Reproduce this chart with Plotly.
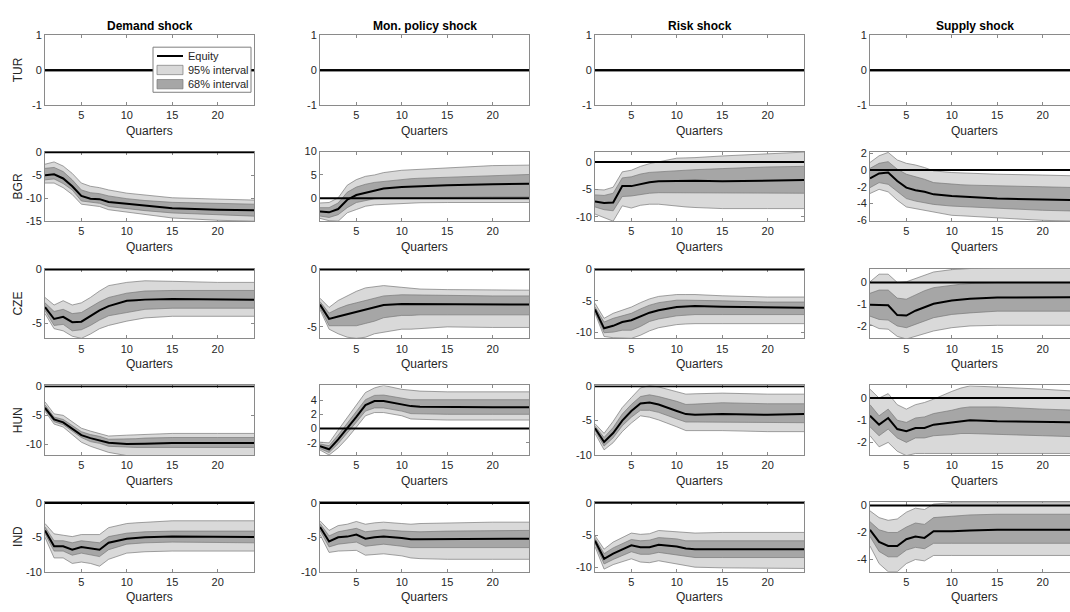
import plotly.graph_objects as go

# ---------------- data ----------------
quarters = [1, 2, 3, 4, 5, 6, 7, 8, 10, 11, 12, 15, 20, 24]
shocks = ["Demand shock", "Mon. policy shock", "Risk shock", "Supply shock"]
countries = ["TUR", "BGR", "CZE", "HUN", "IND"]
legend_labels = ["Equity", "95% interval", "68% interval"]

zeros = [0.0] * len(quarters)
tur_demand = dict(med=zeros, hi68=zeros, lo68=zeros, hi95=zeros, lo95=zeros)
tur_mon = dict(med=zeros, hi68=zeros, lo68=zeros, hi95=zeros, lo95=zeros)
tur_risk = dict(med=zeros, hi68=zeros, lo68=zeros, hi95=zeros, lo95=zeros)
tur_supply = dict(med=zeros, hi68=zeros, lo68=zeros, hi95=zeros, lo95=zeros)

bgr_demand = dict(
    med=[-5.0, -4.8, -5.7, -7.4, -9.5, -10.1, -10.2, -10.8, -11.2, -11.4, -11.6, -12.2, -12.5, -12.6],
    hi68=[-3.5, -3.3, -4.2, -6.0, -8.2, -8.8, -9.0, -9.5, -10.1, -10.3, -10.5, -10.9, -11.2, -11.3],
    lo68=[-6.0, -5.8, -6.8, -8.2, -10.6, -10.9, -11.1, -11.8, -12.3, -12.5, -12.7, -13.2, -13.6, -13.9],
    hi95=[-2.6, -2.1, -3.0, -4.6, -6.7, -7.4, -7.7, -8.2, -8.9, -9.1, -9.3, -9.9, -10.2, -10.4],
    lo95=[-6.7, -6.7, -7.7, -9.2, -11.3, -11.6, -11.8, -12.5, -13.0, -13.3, -13.6, -14.3, -14.8, -15.0])
bgr_mon = dict(
    med=[-2.8, -3.0, -2.3, -0.3, 0.7, 1.2, 1.7, 2.1, 2.4, 2.5, 2.6, 2.8, 3.0, 3.1],
    hi68=[-2.0, -2.0, -1.0, 1.3, 2.4, 3.0, 3.4, 3.6, 4.1, 4.2, 4.3, 4.5, 4.9, 5.1],
    lo68=[-3.8, -4.1, -3.5, -2.0, -0.9, -0.5, -0.1, 0.0, 0.1, 0.15, 0.15, 0.2, 0.3, 0.3],
    hi95=[-1.0, -0.9, 0.1, 2.8, 4.0, 4.7, 5.0, 5.5, 6.0, 6.1, 6.2, 6.6, 7.0, 7.1],
    lo95=[-4.3, -4.8, -4.9, -3.1, -2.4, -1.7, -1.4, -1.3, -1.0, -1.0, -0.95, -0.9, -0.9, -0.9])
bgr_risk = dict(
    med=[-7.2, -7.5, -7.4, -4.4, -4.4, -4.0, -3.7, -3.5, -3.4, -3.4, -3.4, -3.5, -3.4, -3.3],
    hi68=[-6.0, -6.1, -5.7, -2.9, -2.7, -2.2, -1.9, -1.8, -1.5, -1.45, -1.4, -1.2, -0.9, -0.8],
    lo68=[-8.2, -8.7, -8.9, -6.3, -6.2, -5.9, -5.7, -5.6, -5.6, -5.6, -5.65, -5.7, -5.7, -5.7],
    hi95=[-5.0, -5.1, -4.6, -1.8, -1.5, -0.8, -0.3, 0.0, 0.7, 0.75, 0.8, 1.1, 1.5, 1.8],
    lo95=[-9.5, -10.1, -10.8, -8.0, -8.4, -7.9, -7.7, -7.7, -8.1, -8.2, -8.3, -8.5, -8.5, -8.5])
bgr_supply = dict(
    med=[-1.0, -0.4, -0.3, -1.3, -2.1, -2.4, -2.6, -2.9, -3.1, -3.15, -3.2, -3.4, -3.5, -3.6],
    hi68=[0.2, 0.8, 1.0, 0.1, -0.5, -0.8, -1.1, -1.5, -1.7, -1.75, -1.8, -1.9, -2.0, -2.1],
    lo68=[-2.1, -1.5, -1.7, -2.6, -3.4, -3.7, -3.9, -4.1, -4.3, -4.35, -4.4, -4.6, -4.8, -4.9],
    hi95=[0.9, 1.7, 2.1, 1.2, 0.8, 0.6, 0.3, -0.1, -0.3, -0.35, -0.4, -0.5, -0.6, -0.7],
    lo95=[-2.8, -2.3, -2.6, -3.6, -4.4, -4.6, -4.8, -5.0, -5.4, -5.45, -5.5, -5.7, -6.0, -6.1])

cze_demand = dict(
    med=[-3.5, -4.6, -4.4, -4.9, -4.85, -4.3, -3.8, -3.4, -2.9, -2.85, -2.8, -2.75, -2.75, -2.8],
    hi68=[-3.1, -3.9, -3.7, -4.1, -4.0, -3.5, -3.0, -2.6, -2.2, -2.1, -2.0, -1.95, -1.95, -1.95],
    lo68=[-3.8, -5.2, -5.1, -5.7, -5.6, -5.2, -4.7, -4.3, -4.0, -3.85, -3.7, -3.6, -3.6, -3.6],
    hi95=[-2.6, -3.3, -2.9, -3.3, -3.1, -2.6, -2.0, -1.5, -1.2, -1.1, -1.05, -1.1, -1.2, -1.2],
    lo95=[-4.1, -5.5, -5.7, -6.2, -6.4, -6.0, -5.5, -5.2, -4.8, -4.65, -4.5, -4.35, -4.35, -4.35])
cze_mon = dict(
    med=[-3.05, -4.3, -4.1, -3.9, -3.7, -3.5, -3.3, -3.1, -3.0, -3.0, -3.0, -3.0, -3.05, -3.05],
    hi68=[-2.8, -3.8, -3.4, -3.1, -2.9, -2.7, -2.5, -2.3, -2.2, -2.2, -2.2, -2.25, -2.3, -2.3],
    lo68=[-3.3, -4.9, -4.9, -4.9, -4.9, -4.7, -4.5, -4.2, -4.0, -4.0, -3.95, -3.95, -3.95, -3.95],
    hi95=[-2.5, -3.3, -2.7, -2.3, -1.9, -1.6, -1.5, -1.4, -1.55, -1.65, -1.7, -1.75, -1.8, -1.8],
    lo95=[-3.5, -5.2, -5.6, -5.9, -6.0, -5.9, -5.6, -5.45, -5.2, -5.2, -5.15, -5.0, -5.05, -5.05])
cze_risk = dict(
    med=[-6.4, -9.4, -9.0, -8.4, -8.1, -7.5, -6.9, -6.5, -6.0, -5.9, -5.85, -5.95, -6.05, -6.1],
    hi68=[-6.0, -8.4, -7.8, -7.4, -7.0, -6.3, -5.7, -5.3, -4.9, -4.9, -4.9, -5.0, -5.2, -5.2],
    lo68=[-6.7, -10.1, -10.0, -9.7, -9.7, -9.1, -8.3, -7.9, -7.4, -7.3, -7.2, -7.2, -7.2, -7.2],
    hi95=[-5.4, -7.8, -7.0, -6.5, -6.0, -5.3, -4.7, -4.3, -4.0, -4.0, -4.0, -4.2, -4.4, -4.4],
    lo95=[-7.0, -10.7, -10.9, -11.0, -11.0, -10.5, -9.8, -9.3, -8.8, -8.7, -8.65, -8.65, -8.65, -8.65])
cze_supply = dict(
    med=[-1.02, -1.02, -1.05, -1.5, -1.52, -1.3, -1.13, -0.98, -0.83, -0.79, -0.75, -0.69, -0.68, -0.68],
    hi68=[-0.5, -0.35, -0.35, -0.72, -0.77, -0.57, -0.38, -0.24, -0.12, -0.08, -0.05, 0.0, 0.0, 0.0],
    lo68=[-1.55, -1.7, -1.73, -2.0, -2.08, -1.93, -1.75, -1.62, -1.47, -1.43, -1.4, -1.32, -1.32, -1.32],
    hi95=[0.03, 0.38, 0.38, 0.0, 0.03, 0.18, 0.36, 0.48, 0.59, 0.62, 0.64, 0.66, 0.66, 0.66],
    lo95=[-1.93, -2.12, -2.15, -2.48, -2.6, -2.48, -2.35, -2.23, -2.08, -2.04, -2.0, -1.97, -1.97, -1.97])

hun_demand = dict(
    med=[-3.7, -5.7, -6.2, -7.3, -8.4, -8.9, -9.3, -9.7, -9.9, -9.9, -9.85, -9.75, -9.75, -9.75],
    hi68=[-3.2, -5.3, -5.7, -6.8, -7.8, -8.3, -8.6, -9.1, -9.1, -9.0, -8.9, -8.8, -8.8, -8.8],
    lo68=[-4.05, -6.1, -6.6, -7.7, -8.8, -9.5, -9.8, -10.3, -10.5, -10.5, -10.5, -10.5, -10.5, -10.5],
    hi95=[-2.7, -4.75, -5.0, -6.1, -7.2, -7.7, -8.1, -8.55, -8.4, -8.35, -8.3, -8.1, -8.1, -8.1],
    lo95=[-4.3, -6.5, -7.0, -8.3, -9.6, -10.3, -10.8, -11.35, -11.9, -11.9, -11.9, -11.9, -11.9, -11.9])
hun_mon = dict(
    med=[-2.45, -2.9, -1.5, 0.0, 1.65, 3.3, 3.85, 3.85, 3.35, 3.15, 3.05, 3.0, 3.0, 3.0],
    hi68=[-2.15, -2.4, -0.9, 0.67, 2.4, 4.05, 4.65, 4.7, 4.25, 4.05, 4.05, 4.05, 4.05, 4.05],
    lo68=[-2.8, -3.35, -2.1, -0.67, 0.9, 2.45, 2.9, 2.9, 2.45, 2.1, 2.05, 2.0, 2.0, 2.0],
    hi95=[-1.9, -2.0, -0.2, 1.5, 3.35, 5.05, 5.7, 6.05, 5.5, 5.35, 5.25, 5.15, 5.15, 5.15],
    lo95=[-3.0, -3.7, -2.7, -1.35, 0.2, 1.8, 2.25, 2.25, 1.8, 1.35, 1.3, 1.2, 1.2, 1.2])
hun_risk = dict(
    med=[-6.1, -8.1, -6.8, -5.0, -3.6, -2.5, -2.35, -2.65, -3.6, -4.05, -4.15, -4.05, -4.15, -4.05],
    hi68=[-5.8, -7.45, -6.0, -4.05, -2.65, -1.5, -1.25, -1.5, -2.2, -2.65, -2.6, -2.4, -2.55, -2.55],
    lo68=[-6.45, -8.7, -7.5, -5.75, -4.5, -3.5, -3.5, -3.8, -4.75, -5.2, -5.2, -5.2, -5.3, -5.3],
    hi95=[-5.45, -6.85, -5.1, -3.1, -1.65, -0.25, 0.1, -0.1, -0.8, -1.15, -1.1, -1.0, -1.15, -1.15],
    lo95=[-6.85, -9.25, -8.2, -6.6, -5.35, -4.3, -4.5, -4.9, -5.9, -6.45, -6.45, -6.45, -6.6, -6.6])
hun_supply = dict(
    med=[-0.8, -1.2, -0.9, -1.4, -1.5, -1.35, -1.35, -1.2, -1.1, -1.05, -1.0, -1.05, -1.1, -1.1],
    hi68=[-0.3, -0.8, -0.5, -1.0, -1.1, -0.9, -0.85, -0.7, -0.55, -0.45, -0.4, -0.4, -0.5, -0.55],
    lo68=[-1.3, -1.7, -1.4, -1.8, -2.0, -1.8, -1.8, -1.7, -1.65, -1.6, -1.6, -1.65, -1.7, -1.75],
    hi95=[0.4, 0.0, 0.2, -0.3, -0.5, -0.3, -0.2, -0.05, 0.3, 0.45, 0.55, 0.5, 0.4, 0.3],
    lo95=[-1.7, -2.2, -2.0, -2.4, -2.6, -2.5, -2.5, -2.5, -2.5, -2.5, -2.5, -2.5, -2.5, -2.5])

ind_demand = dict(
    med=[-4.0, -6.3, -6.3, -6.8, -6.4, -6.6, -6.8, -5.8, -5.2, -5.1, -5.0, -4.9, -4.9, -4.95],
    hi68=[-3.5, -5.5, -5.5, -5.8, -5.5, -5.7, -5.8, -4.9, -4.4, -4.3, -4.2, -4.1, -4.1, -4.1],
    lo68=[-4.5, -7.0, -7.0, -7.6, -7.3, -7.5, -7.8, -6.8, -6.0, -5.9, -5.8, -5.7, -5.8, -5.8],
    hi95=[-3.0, -4.5, -4.7, -4.9, -4.6, -4.6, -4.6, -3.6, -3.0, -2.9, -2.8, -2.6, -2.6, -2.6],
    lo95=[-5.0, -8.0, -8.0, -8.8, -8.6, -8.8, -9.2, -8.2, -7.3, -7.2, -7.1, -7.0, -7.0, -7.0])
ind_mon = dict(
    med=[-3.5, -5.6, -5.0, -4.9, -4.6, -5.2, -5.0, -4.9, -5.1, -5.3, -5.3, -5.25, -5.2, -5.2],
    hi68=[-3.0, -4.8, -4.2, -4.0, -3.7, -4.2, -4.0, -3.9, -4.1, -4.2, -4.2, -4.1, -4.0, -4.0],
    lo68=[-4.0, -6.4, -6.0, -5.9, -5.7, -6.3, -6.2, -6.0, -6.3, -6.5, -6.5, -6.5, -6.5, -6.5],
    hi95=[-2.6, -4.0, -3.3, -3.1, -2.7, -3.1, -2.9, -2.8, -3.0, -3.1, -3.0, -2.9, -2.8, -2.8],
    lo95=[-4.6, -7.2, -7.0, -7.0, -6.9, -7.6, -7.5, -7.4, -7.7, -8.0, -8.1, -8.2, -8.2, -8.2])
ind_risk = dict(
    med=[-5.9, -8.7, -7.9, -7.2, -6.6, -6.9, -6.9, -6.5, -6.8, -7.1, -7.2, -7.2, -7.2, -7.2],
    hi68=[-5.5, -7.9, -7.0, -6.3, -5.7, -5.9, -5.8, -5.4, -5.6, -5.9, -5.9, -5.9, -5.9, -5.9],
    lo68=[-6.3, -9.5, -8.8, -8.2, -7.6, -8.0, -8.0, -7.7, -8.1, -8.4, -8.5, -8.5, -8.5, -8.5],
    hi95=[-5.1, -7.2, -6.1, -5.4, -4.7, -4.9, -4.8, -4.3, -4.5, -4.7, -4.7, -4.6, -4.6, -4.6],
    lo95=[-6.8, -10.3, -9.6, -9.1, -8.7, -9.2, -9.3, -9.0, -9.5, -9.8, -10.0, -10.1, -10.2, -10.2])
ind_supply = dict(
    med=[-1.8, -2.7, -3.0, -3.0, -2.5, -2.3, -2.4, -1.9, -1.9, -1.85, -1.85, -1.8, -1.8, -1.8],
    hi68=[-1.2, -1.8, -2.0, -2.0, -1.6, -1.3, -1.4, -0.9, -0.8, -0.75, -0.7, -0.65, -0.65, -0.65],
    lo68=[-2.3, -3.4, -3.8, -3.8, -3.3, -3.1, -3.2, -2.8, -2.8, -2.8, -2.8, -2.8, -2.8, -2.8],
    hi95=[-0.4, -0.9, -1.1, -1.0, -0.5, -0.2, -0.3, 0.1, 0.2, 0.2, 0.2, 0.2, 0.2, 0.2],
    lo95=[-3.0, -4.3, -4.9, -4.9, -4.3, -4.0, -4.1, -3.7, -3.7, -3.7, -3.7, -3.7, -3.7, -3.7])

panels = [
    [tur_demand, tur_mon, tur_risk, tur_supply],
    [bgr_demand, bgr_mon, bgr_risk, bgr_supply],
    [cze_demand, cze_mon, cze_risk, cze_supply],
    [hun_demand, hun_mon, hun_risk, hun_supply],
    [ind_demand, ind_mon, ind_risk, ind_supply],
]

y_ranges = [
    [[-1, 1], [-1, 1], [-1, 1], [-1, 1]],
    [[-15, 0.15], [-4.9, 10], [-10.8, 1.9], [-6.1, 2.2]],
    [[-6.4, 0.07], [-6.0, 0.07], [-11.0, 0.12], [-2.57, 0.63]],
    [[-11.8, 0.13], [-3.7, 6.05], [-10, 0.12], [-2.57, 0.57]],
    [[-10, 0.12], [-10, 0.12], [-10.7, 0.12], [-4.9, 0.25]],
]
y_ticks = [
    [[-1, 0, 1], [-1, 0, 1], [-1, 0, 1], [-1, 0, 1]],
    [[-15, -10, -5, 0], [0, 5, 10], [-10, -5, 0], [-6, -4, -2, 0, 2]],
    [[-5, 0], [-5, 0], [-10, -5, 0], [-2, -1, 0]],
    [[-10, -5, 0], [-2, 0, 2, 4], [-10, -5, 0], [-2, -1, 0]],
    [[-10, -5, 0], [-10, -5, 0], [-10, -5, 0], [-4, -2, 0]],
]
x_ticks = [5, 10, 15, 20]

# ---------------- styling / layout ----------------
W, H = 1070, 612
FONT = "Liberation Sans, Arial, Helvetica, sans-serif"
TXT = "#262626"
AXC = "#8a8a8a"
EDGE = "#7a7a7a"
C95 = "#d9d9d9"
C68 = "#a6a6a6"

col_left = [45, 320, 595, 870]
panel_w = 209
row_top = [30, 148.5, 268, 387, 506]
panel_h = 71


def px(x):
    return x / W


def py(y):
    return 1 - y / H


fig = go.Figure()
annotations = []
shapes = []
layout_axes = {}

for r in range(5):
    for c in range(4):
        k = r * 4 + c + 1
        xa = "x" if k == 1 else f"x{k}"
        ya = "y" if k == 1 else f"y{k}"
        d = panels[r][c]
        fig.add_trace(go.Scatter(x=quarters, y=d["lo95"], xaxis=xa, yaxis=ya, mode="lines",
                                 line=dict(color=EDGE, width=0.7), showlegend=False, hoverinfo="skip"))
        fig.add_trace(go.Scatter(x=quarters, y=d["hi95"], xaxis=xa, yaxis=ya, mode="lines",
                                 line=dict(color=EDGE, width=0.7), fill="tonexty", fillcolor=C95,
                                 name=legend_labels[1], showlegend=False, hoverinfo="skip"))
        fig.add_trace(go.Scatter(x=quarters, y=d["lo68"], xaxis=xa, yaxis=ya, mode="lines",
                                 line=dict(color=EDGE, width=0.7), showlegend=False, hoverinfo="skip"))
        fig.add_trace(go.Scatter(x=quarters, y=d["hi68"], xaxis=xa, yaxis=ya, mode="lines",
                                 line=dict(color=EDGE, width=0.7), fill="tonexty", fillcolor=C68,
                                 name=legend_labels[2], showlegend=False, hoverinfo="skip"))
        fig.add_trace(go.Scatter(x=[quarters[0], quarters[-1]], y=[0, 0], xaxis=xa, yaxis=ya,
                                 mode="lines", line=dict(color="black", width=2),
                                 showlegend=False, hoverinfo="skip"))
        fig.add_trace(go.Scatter(x=quarters, y=d["med"], xaxis=xa, yaxis=ya, mode="lines",
                                 line=dict(color="black", width=2), name=legend_labels[0],
                                 showlegend=False))

        L = col_left[c]
        R = min(L + panel_w, W)
        xr_hi = 1 + (R - L) / (panel_w / 23.0)
        T = row_top[r]
        B = T + panel_h
        yt = y_ticks[r][c]
        axis_common = dict(showline=True, linecolor=AXC, linewidth=1, ticks="inside", ticklen=3,
                           tickcolor=AXC, showgrid=False, zeroline=False, layer="below traces",
                           tickfont=dict(family=FONT, size=11, color=TXT))
        layout_axes["xaxis" if k == 1 else f"xaxis{k}"] = dict(
            domain=[px(L), px(R)], range=[1, xr_hi], anchor=ya, tickvals=x_ticks,
            ticktext=[str(t) for t in x_ticks], mirror="ticks", **axis_common)
        layout_axes["yaxis" if k == 1 else f"yaxis{k}"] = dict(
            domain=[py(B), py(T)], range=y_ranges[r][c], anchor=xa, tickvals=yt,
            ticktext=[str(t) for t in yt], mirror=("ticks" if c < 3 else False), **axis_common)

        annotations.append(dict(text="Quarters", x=px(L + panel_w / 2), y=py(B + 26),
                                xref="paper", yref="paper", showarrow=False,
                                font=dict(family=FONT, size=12, color=TXT),
                                xanchor="center", yanchor="middle"))
        if c == 0:
            annotations.append(dict(text=countries[r], x=px(18), y=py((T + B) / 2),
                                    xref="paper", yref="paper", showarrow=False, textangle=-90,
                                    font=dict(family=FONT, size=12, color=TXT),
                                    xanchor="center", yanchor="middle"))
        if r == 0:
            annotations.append(dict(text="<b>" + shocks[c] + "</b>", x=px(L + panel_w / 2),
                                    y=py(20), xref="paper", yref="paper", showarrow=False,
                                    font=dict(family=FONT, size=12, color="black"),
                                    xanchor="center", yanchor="middle"))

# ---- legend box inside the first panel (MATLAB-style, compact) ----
shapes.append(dict(type="rect", xref="paper", yref="paper", layer="above",
                   x0=px(153), x1=px(251), y0=py(88), y1=py(42),
                   fillcolor="white", line=dict(color="#7f7f7f", width=1)))
shapes.append(dict(type="line", xref="paper", yref="paper", layer="above",
                   x0=px(157), x1=px(183), y0=py(51), y1=py(51),
                   line=dict(color="black", width=2)))
shapes.append(dict(type="rect", xref="paper", yref="paper", layer="above",
                   x0=px(157), x1=px(183), y0=py(70), y1=py(60.5),
                   fillcolor=C95, line=dict(color=EDGE, width=0.7)))
shapes.append(dict(type="rect", xref="paper", yref="paper", layer="above",
                   x0=px(157), x1=px(183), y0=py(84.5), y1=py(75),
                   fillcolor=C68, line=dict(color=EDGE, width=0.7)))
for lab, yy in zip(legend_labels, [51, 65.5, 80]):
    annotations.append(dict(text=lab, x=px(186), y=py(yy), xref="paper", yref="paper",
                            showarrow=False, xanchor="left", yanchor="middle",
                            font=dict(family=FONT, size=11, color=TXT)))

fig.update_layout(
    width=W, height=H, margin=dict(l=0, r=0, t=0, b=0),
    paper_bgcolor="white", plot_bgcolor="white",
    showlegend=False,
    annotations=annotations, shapes=shapes,
    **layout_axes,
)

fig.write_html(
    "out.html",
    config={"displayModeBar": False},
    post_script=(
        "document.documentElement.style.margin='0';"
        "document.body.style.margin='0';"
        "document.body.style.overflow='hidden';"
        "var gd=document.getElementById('{plot_id}');"
        "gd.style.position='fixed';gd.style.left='0px';gd.style.top='0px';"
    ),
)
